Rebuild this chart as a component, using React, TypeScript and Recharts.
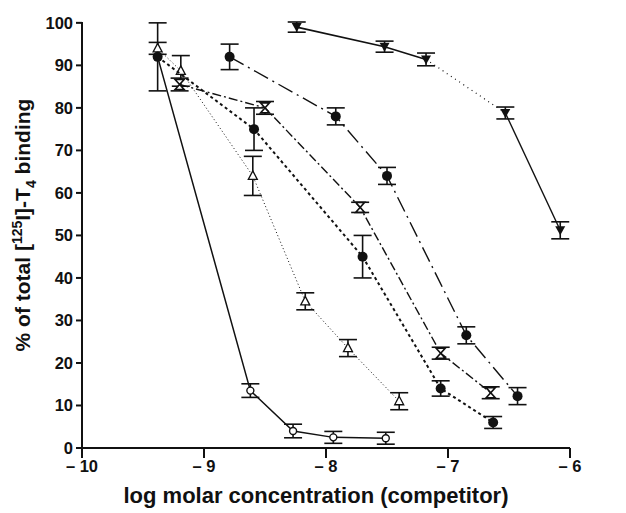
import { ScatterChart, Scatter, XAxis, YAxis, ErrorBar, Label } from 'recharts';

// log molar concentration, % binding, error
const circX = [-9.38, -8.62, -8.27, -7.94, -7.51];
const circY = [92, 13.5, 4, 2.5, 2.3];
const circErr = [8, 1.6, 1.6, 1.4, 1.4];

const triX = [-9.38, -9.19, -8.6, -8.17, -7.82, -7.4];
const triY = [94, 88.7, 64, 34.5, 23.5, 11];
const triErr = [1.4, 3.6, 4.6, 2, 2, 2];

const dotX = [-9.38, -8.59, -7.7, -7.06, -6.63];
const dotY = [92, 75, 45, 14, 6];
const dotErr = [0, 5, 5, 1.8, 1.4];

const hourX = [-9.2, -8.5, -7.72, -7.06, -6.65];
const hourY = [85.5, 80, 56.6, 22.3, 13];
const hourErr = [1.5, 1.5, 1.2, 1.4, 1.4];

const bigX = [-8.79, -7.92, -7.5, -6.85, -6.43];
const bigY = [92, 78, 64, 26.5, 12.2];
const bigErr = [3, 2, 2, 2, 2];

const invX = [-8.24, -7.52, -7.18, -6.53, -6.08];
const invY = [99, 94.4, 91.4, 78.8, 51.2];
const invErr = [1.2, 1.3, 1.5, 1.4, 2];

const xTicks = [-10, -9, -8, -7, -6];
const yTicks = [0, 10, 20, 30, 40, 50, 60, 70, 80, 90, 100];

const rows = (xs: number[], ys: number[], es: number[]) =>
  xs.map((x, i) => ({ x, y: ys[i], e: es[i] }));

const INK = '#111';
const FONT = '"Liberation Sans", Arial, sans-serif';

const OpenCircle = (p: any) => (
  <circle cx={p.cx} cy={p.cy} r={3.5} fill="#fff" stroke={INK} strokeWidth={1.4} />
);
const FilledCircle = (p: any) => <circle cx={p.cx} cy={p.cy} r={5} fill={INK} />;
const OpenTriangle = (p: any) => (
  <path
    d={`M${p.cx},${p.cy - 5}L${p.cx + 4.5},${p.cy + 3.5}L${p.cx - 4.5},${p.cy + 3.5}Z`}
    fill="#fff"
    stroke={INK}
    strokeWidth={1.3}
  />
);
const InvTriangle = (p: any) => (
  <path
    d={`M${p.cx - 5},${p.cy - 4}L${p.cx + 5},${p.cy - 4}L${p.cx},${p.cy + 5}Z`}
    fill={INK}
  />
);
const Hourglass = (p: any) => (
  <path
    d={`M${p.cx - 4.5},${p.cy - 5}L${p.cx + 4.5},${p.cy - 5}L${p.cx - 4.5},${p.cy + 5}L${p.cx + 4.5},${p.cy + 5}Z`}
    fill="#fff"
    stroke={INK}
    strokeWidth={1.6}
  />
);
const NoMark = () => <g />;

const YLabel = ({ viewBox }: any) => {
  const cx = 22;
  const cy = viewBox.y + viewBox.height / 2 - 10;
  return (
    <text
      transform={`translate(${cx},${cy}) rotate(-90)`}
      textAnchor="middle"
      fontFamily={FONT}
      fontWeight="bold"
      fontSize={21}
      fill={INK}
    >
      % of total [
      <tspan fontSize={14} dy={-8}>125</tspan>
      <tspan dy={8}>I]-T</tspan>
      <tspan fontSize={14} dy={6}>4</tspan>
      <tspan dy={-6}> binding</tspan>
    </text>
  );
};

const tickStyle = { fontFamily: FONT, fontWeight: 'bold', fontSize: 16.5, fill: INK };

const err = (
  <ErrorBar dataKey="e" direction="y" width={9} stroke={INK} strokeWidth={1.6} />
);

export default function App() {
  return (
    <ScatterChart
      width={610}
      height={505}
      margin={{ top: 14, right: 48, left: 0, bottom: 0 }}
    >
      <XAxis
        type="number"
        dataKey="x"
        domain={[-10, -6]}
        ticks={xTicks}
        tickFormatter={(v: number) => `\u2013 ${Math.abs(v)}`}
        tick={tickStyle}
        tickSize={10}
        tickMargin={2}
        height={65}
        axisLine={{ stroke: INK, strokeWidth: 2 }}
        tickLine={{ stroke: INK, strokeWidth: 2 }}
      >
        <Label
          value="log molar concentration (competitor)"
          position="insideBottom"
          offset={10}
          dx={-10}
          style={{ fontFamily: FONT, fontWeight: 'bold', fontSize: 22, fill: INK }}
        />
      </XAxis>
      <YAxis
        type="number"
        dataKey="y"
        domain={[0, 100]}
        ticks={yTicks}
        tick={tickStyle}
        tickSize={6}
        tickMargin={3}
        width={74}
        axisLine={{ stroke: INK, strokeWidth: 2 }}
        tickLine={{ stroke: INK, strokeWidth: 2 }}
        label={<YLabel />}
      />
      <Scatter
        data={rows(circX, circY, circErr)}
        line={{ stroke: INK, strokeWidth: 1.5 }}
        shape={<OpenCircle />}
        isAnimationActive={false}
      >
        {err}
      </Scatter>
      <Scatter
        data={rows(triX, triY, triErr)}
        line={{ stroke: INK, strokeWidth: 1, strokeDasharray: '1 2.5' }}
        shape={<OpenTriangle />}
        isAnimationActive={false}
      >
        {err}
      </Scatter>
      <Scatter
        data={rows(dotX, dotY, dotErr)}
        line={{ stroke: INK, strokeWidth: 2, strokeDasharray: '3 3' }}
        shape={<FilledCircle />}
        isAnimationActive={false}
      >
        {err}
      </Scatter>
      <Scatter
        data={rows(hourX, hourY, hourErr)}
        line={{ stroke: INK, strokeWidth: 1.4, strokeDasharray: '9 3 2 3' }}
        shape={<Hourglass />}
        isAnimationActive={false}
      >
        {err}
      </Scatter>
      <Scatter
        data={rows(bigX, bigY, bigErr)}
        line={{ stroke: INK, strokeWidth: 1.4, strokeDasharray: '16 5 2 5' }}
        shape={<FilledCircle />}
        isAnimationActive={false}
      >
        {err}
      </Scatter>
      <Scatter
        data={rows(invX.slice(2, 4), invY.slice(2, 4), invErr.slice(2, 4))}
        line={{ stroke: INK, strokeWidth: 1.2, strokeDasharray: '1 4' }}
        shape={<NoMark />}
        isAnimationActive={false}
      />
      <Scatter
        data={rows(invX.slice(0, 3), invY.slice(0, 3), invErr.slice(0, 3))}
        line={{ stroke: INK, strokeWidth: 1.6 }}
        shape={<InvTriangle />}
        isAnimationActive={false}
      >
        {err}
      </Scatter>
      <Scatter
        data={rows(invX.slice(3), invY.slice(3), invErr.slice(3))}
        line={{ stroke: INK, strokeWidth: 1.4 }}
        shape={<InvTriangle />}
        isAnimationActive={false}
      >
        {err}
      </Scatter>
    </ScatterChart>
  );
}
